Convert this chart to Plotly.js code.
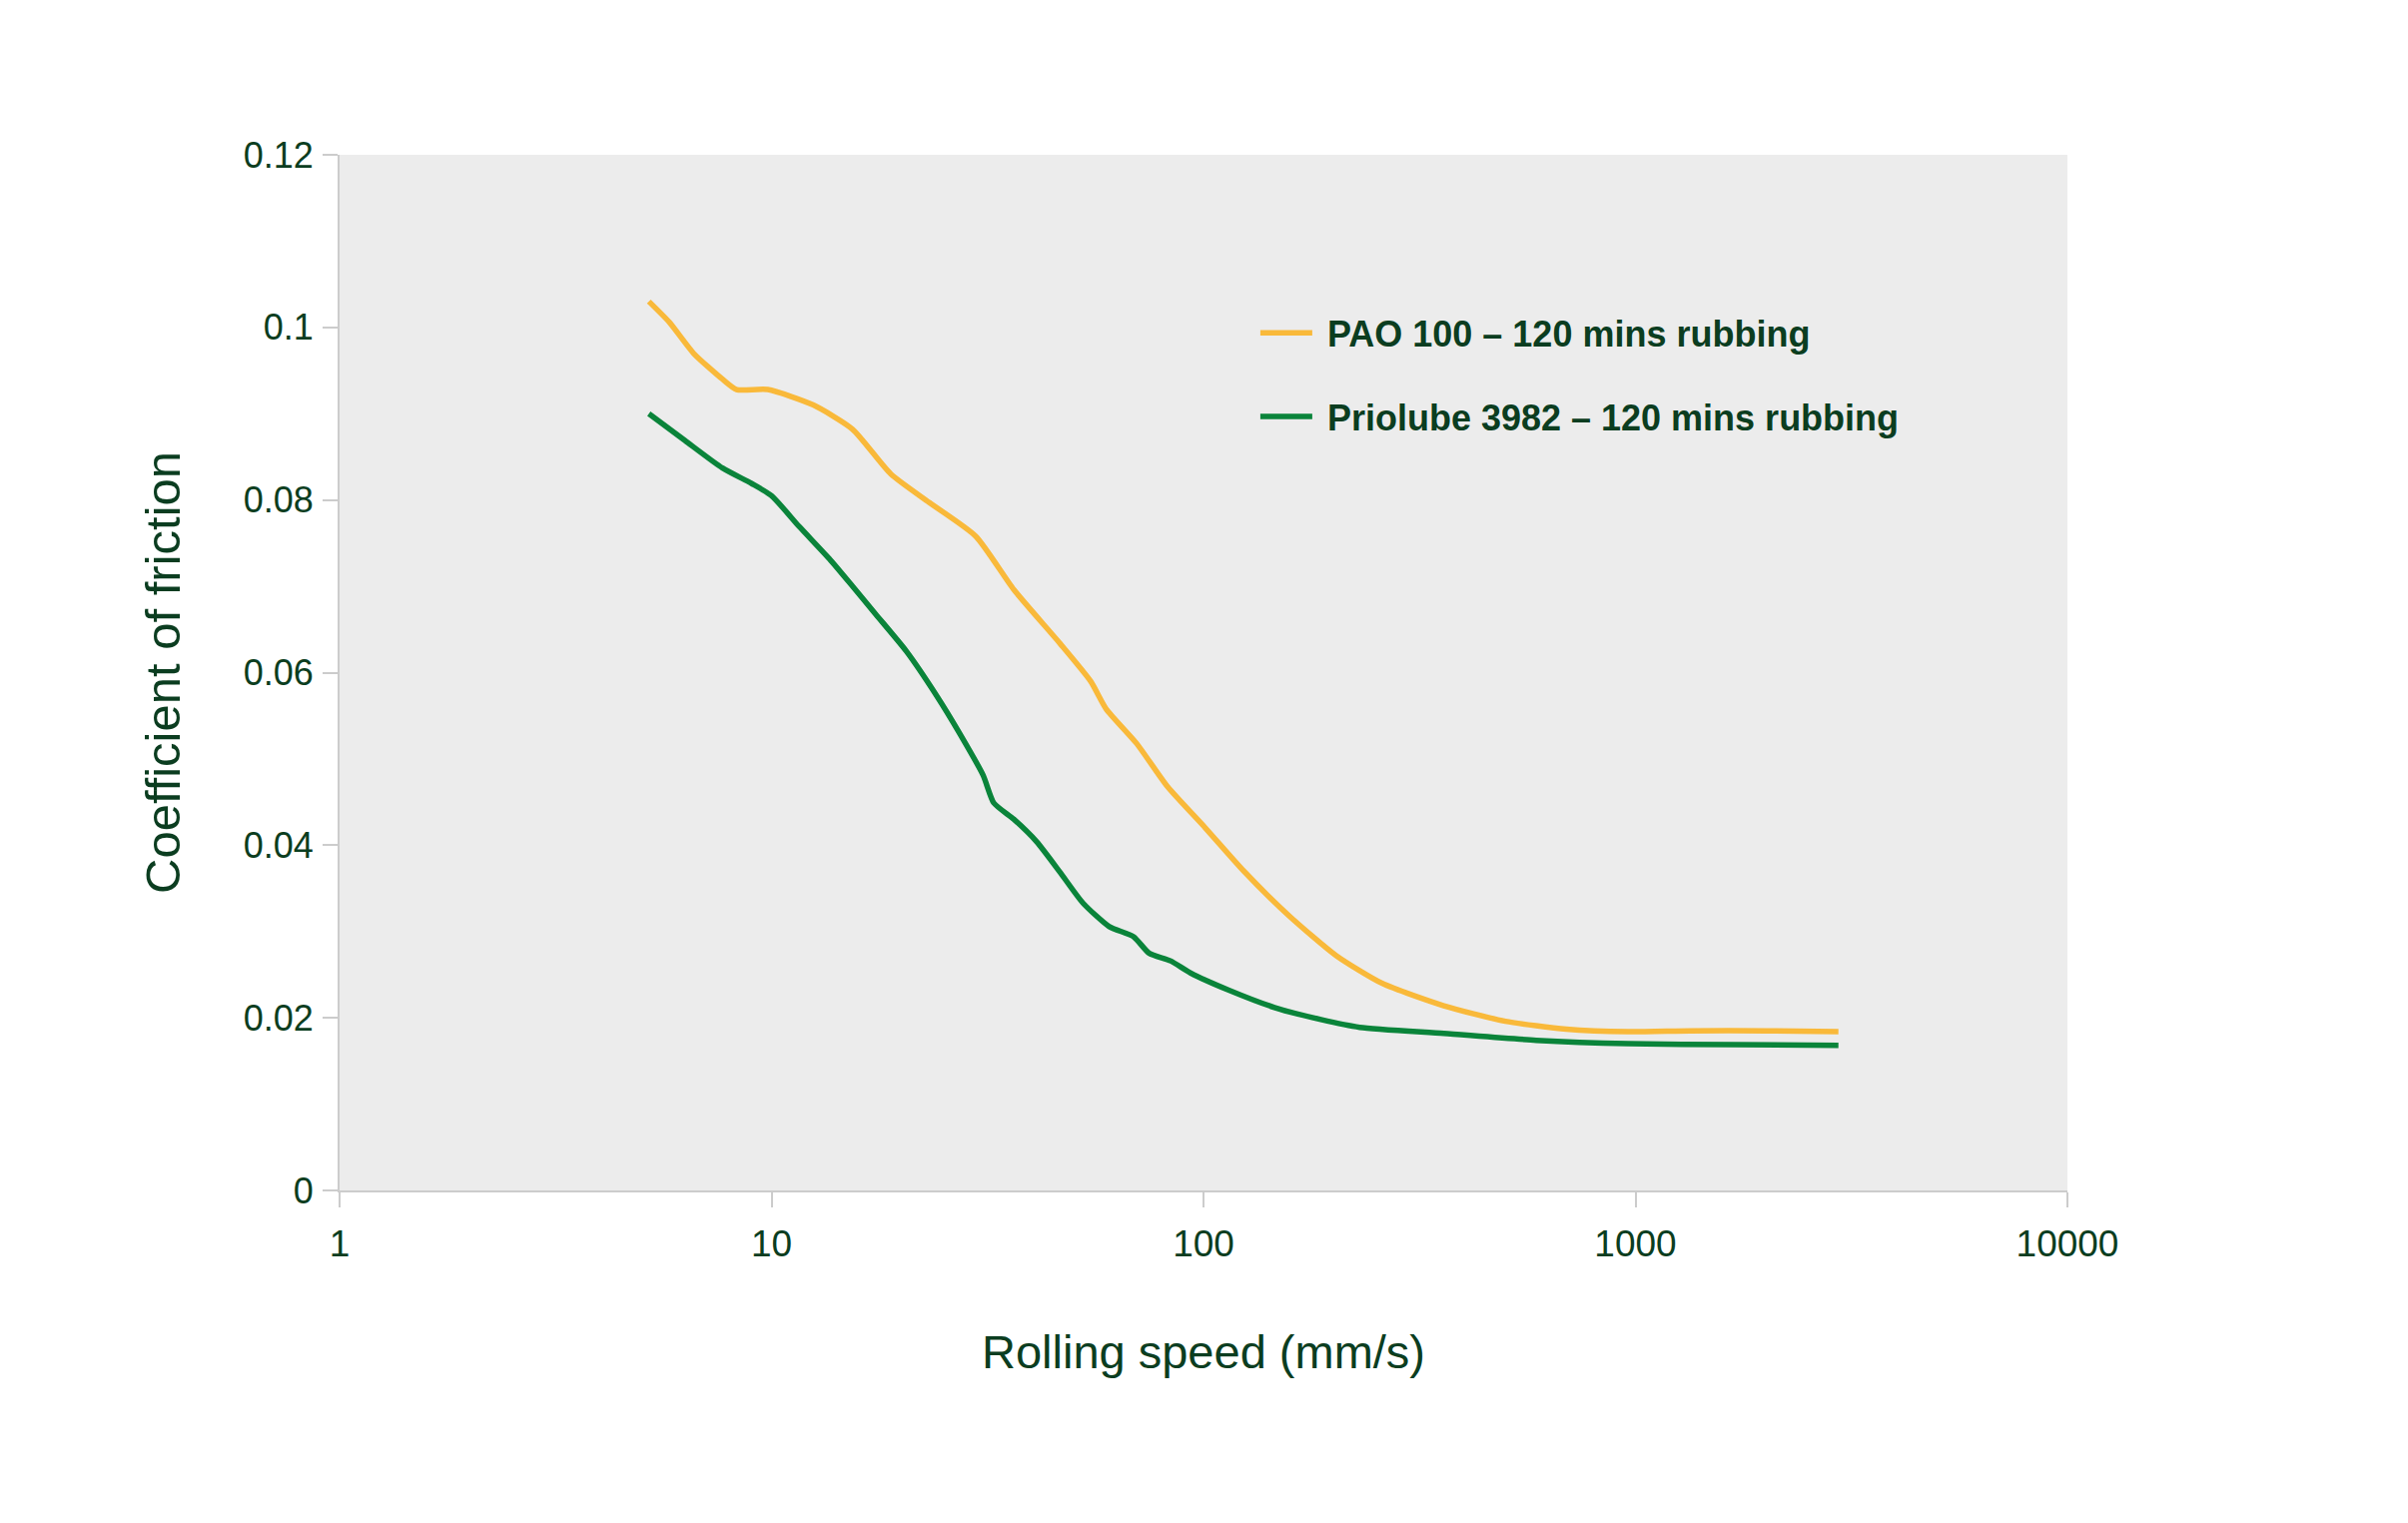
<!DOCTYPE html>
<html>
<head>
<meta charset="utf-8">
<script src="https://cdn.plot.ly/plotly-3.0.1.min.js"></script>
<style>html,body{margin:0;padding:0;background:#fff;}#chart{width:2411px;height:1525px;}</style>
</head>
<body>
<div id="chart"></div>
<script>
// Rolling speed (mm/s) and coefficient of friction
var paoSpeed = [5.2, 5.8, 6.6, 7.7, 8.3, 9.8, 12.5, 15.4, 18.9, 23.2, 29.7, 36.4, 46.5, 54.8, 59.5, 70, 82.5, 101, 124, 158, 203, 259, 360, 500, 692, 962, 1335, 2010, 2950];
var paoCof   = [0.1030, 0.1006, 0.0970, 0.0940, 0.0928, 0.0928, 0.0910, 0.0882, 0.0830, 0.0797, 0.0758, 0.0696, 0.0634, 0.0590, 0.0558, 0.0518, 0.0468, 0.0420, 0.0370, 0.0318, 0.0272, 0.0240, 0.0214, 0.0196, 0.0187, 0.0184, 0.0185, 0.0185, 0.0184];

var prioSpeed = [5.2, 6.3, 7.7, 9.0, 10.0, 11.6, 13.6, 15.4, 17.4, 20.5, 24.2, 27.3, 30.9, 32.7, 36.4, 41.1, 46.5, 52.6, 60.4, 68.9, 74.8, 83.9, 93.3, 114.5, 146, 187, 230, 360, 589, 962, 1706, 2950];
var prioCof   = [0.0900, 0.0869, 0.0837, 0.0819, 0.0805, 0.0769, 0.0732, 0.0700, 0.0668, 0.0625, 0.0572, 0.0529, 0.0481, 0.0449, 0.0430, 0.0404, 0.0369, 0.0333, 0.0306, 0.0294, 0.0275, 0.0266, 0.0252, 0.0232, 0.0212, 0.0198, 0.0189, 0.0182, 0.0174, 0.0170, 0.0169, 0.0168];

var seriesNames = ["PAO 100 – 120 mins rubbing", "Priolube 3982 – 120 mins rubbing"];
var xTickVals = [1, 10, 100, 1000, 10000];
var xTickText = ["1", "10", "100", "1000", "10000"];
var yTickVals = [0, 0.02, 0.04, 0.06, 0.08, 0.1, 0.12];
var yTickText = ["0", "0.02", "0.04", "0.06", "0.08", "0.1", "0.12"];

var textColor = "#0b3d20";
var fontFamily = "'Liberation Sans', Arial, Helvetica, sans-serif";

var traces = [
  {x: paoSpeed, y: paoCof, name: "\u00a0" + seriesNames[0], type: "scatter", mode: "lines",
   line: {color: "#f9b93a", width: 5.5, shape: "spline", smoothing: 0.6}, legendgroup: "a"},
  {x: prioSpeed, y: prioCof, name: "\u00a0" + seriesNames[1], type: "scatter", mode: "lines",
   line: {color: "#0a843a", width: 5.5, shape: "spline", smoothing: 0.6}, legendgroup: "b"}
];

var layout = {
  width: 2411, height: 1525,
  margin: {l: 340, r: 341, t: 155, b: 333, pad: 0},
  paper_bgcolor: "#ffffff",
  plot_bgcolor: "#ececec",
  font: {family: fontFamily, color: textColor, size: 36},
  showlegend: true,
  legend: {
    x: 0.530, y: 0.857, xanchor: "left", yanchor: "top",
    bgcolor: "rgba(0,0,0,0)", borderwidth: 0,
    font: {family: fontFamily, size: 36, color: textColor, weight: "bold"},
    itemwidth: 52, traceorder: "grouped", tracegroupgap: 34
  },
  xaxis: {
    type: "log", range: [0, 4], autorange: false,
    tickvals: xTickVals, ticktext: xTickText,
    showgrid: false, zeroline: false,
    showline: true, linecolor: "#cccccc", linewidth: 2,
    ticks: "outside", ticklen: 15, tickwidth: 2, tickcolor: "#cccccc",
    ticklabelstandoff: 5,
    tickfont: {size: 37, color: textColor},
    title: {text: "Rolling speed (mm/s)", font: {size: 47, color: textColor}, standoff: 72}
  },
  yaxis: {
    range: [0, 0.12], autorange: false,
    tickvals: yTickVals, ticktext: yTickText,
    showgrid: false, zeroline: false,
    showline: true, linecolor: "#cccccc", linewidth: 2,
    ticks: "outside", ticklen: 15, tickwidth: 2, tickcolor: "#cccccc",
    ticklabelstandoff: 2,
    tickfont: {size: 36, color: textColor},
    title: {text: "Coefficient of friction", font: {size: 49, color: textColor}, standoff: 48}
  }
};

Plotly.newPlot("chart", traces, layout, {staticPlot: true, displayModeBar: false});
</script>
</body>
</html>
